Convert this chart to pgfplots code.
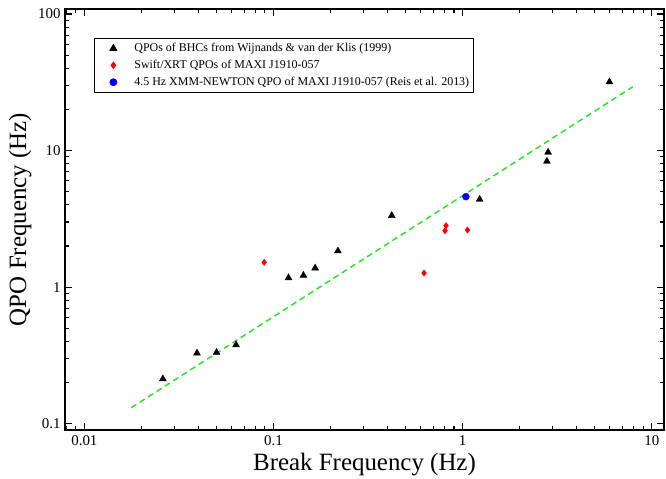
\documentclass[border=0pt]{standalone}
\usepackage{fontspec}
\setmainfont{Liberation Serif}
\usepackage{pgfplots}
\pgfplotsset{compat=1.18}
\definecolor{lgreen}{RGB}{40,230,40}
\begin{document}
\begin{tikzpicture}
\begin{axis}[
  at={(0,0)}, anchor=south west,
  scale only axis, width=599bp, height=421bp,
  xmode=log, ymode=log,
  xmin=0.0079, xmax=11.6, ymin=0.09, ymax=108.8,
  log ticks with fixed point,
  /pgf/number format/assume math mode=true,
  tick align=inside,
  major tick length=7bp, minor tick length=4bp,
  every tick/.append style={black, line width=1.1bp},
  axis line style={line width=1.3bp},
  ticklabel style={font=\fontsize{15}{15}\selectfont},
  xticklabel style={yshift=-2bp},
  yticklabel style={xshift=-1bp},
  xlabel={Break Frequency (Hz)}, ylabel={QPO Frequency (Hz)},
  label style={font=\fontsize{25}{25}\selectfont},
  xlabel style={at={(axis description cs:0.5,0)}, anchor=base, yshift=-40bp},
  ylabel style={at={(axis description cs:-0.0651,0.5)}, anchor=base},
  legend image code/.code={%
    \path[#1, draw=none, mark repeat=2, mark phase=2] plot coordinates {(0bp,0bp) (19bp,0bp) (36bp,0bp)};},
  legend style={at={(rel axis cs:0.0484,0.931)}, anchor=north west,
    draw=black, line width=0.8bp, font=\fontsize{12}{12}\selectfont,
    inner xsep=0bp, inner ysep=3bp, row sep=3bp,
    nodes={inner xsep=4bp, inner ysep=2bp},
    cells={anchor=west}},
]
\addplot[draw=none, mark=triangle*, mark size=4bp, black] coordinates {
  (0.026,0.213) (0.0394,0.329) (0.050,0.333) (0.0634,0.378)
  (0.120,1.17) (0.144,1.22) (0.166,1.38) (0.219,1.84) (0.422,3.34)
  (1.23,4.40) (2.83,9.72) (2.79,8.35) (5.97,31.8)
};
\addlegendentry{QPOs of BHCs from Wijnands \& van der Klis (1999)}
\addplot[draw=none, mark=diamond*, mark size=3.2bp, red] coordinates {
  (0.0893,1.52) (0.625,1.27) (0.817,2.82) (0.807,2.59) (1.06,2.62)
};
\addlegendentry{Swift/XRT QPOs of MAXI J1910-057}
\addplot[draw=none, mark=*, mark size=3.5bp, blue] coordinates {
  (1.04,4.60)
};
\addlegendentry{4.5 Hz XMM-NEWTON QPO of MAXI J1910-057 (Reis et al. 2013)}
\addplot[lgreen, line width=1.5bp, dash pattern=on 6bp off 4bp, forget plot] coordinates {
  (0.0177,0.131) (7.93,29.3)
};
\end{axis}
\pgfresetboundingbox
\path (-65bp,-49bp) rectangle (601bp,430bp);
\end{tikzpicture}
\end{document}
